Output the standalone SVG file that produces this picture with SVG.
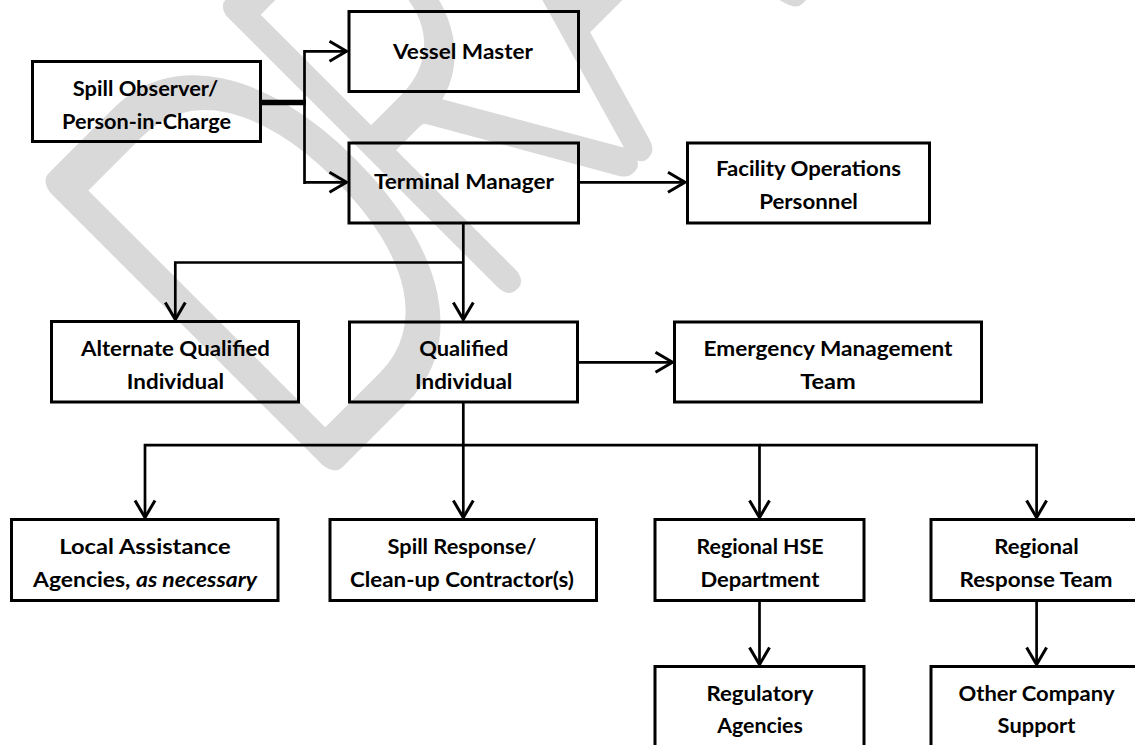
<svg xmlns="http://www.w3.org/2000/svg" width="1135" height="745" viewBox="0 0 1135 745">
<defs>
<style>
.box{fill:none;stroke:#000;stroke-width:3}
.t{font-family:Lato,"Liberation Sans",sans-serif;font-weight:700;font-size:20px;fill:#000;text-anchor:middle}
.c{fill:none;stroke:#000;stroke-width:2.7}
.wm{font-family:Lato,"Liberation Sans",sans-serif;font-weight:100;font-size:544px;fill:#d9d9d9;stroke:#d9d9d9;stroke-width:30;stroke-linejoin:round;stroke-linecap:round}
</style>
<marker id="ah" markerUnits="userSpaceOnUse" markerWidth="24" markerHeight="24" viewBox="-20 -12 24 24" refX="0" refY="0" orient="auto">
<path d="M-17,-10 L0,0 L-17,10" fill="none" stroke="#000" stroke-width="3"/>
</marker>
</defs>
<rect width="1135" height="745" fill="#fff"/>
<g id="watermark">
<text class="wm" vector-effect="non-scaling-stroke" transform="translate(299,486) rotate(-45) scale(0.69,1)">D<tspan dx="-54">RAFT</tspan></text>
</g>
<g id="connectors">
<path d="M262,102.5 H306" fill="none" stroke="#000" stroke-width="5.5"/>
<path d="M304.5,50 V184" class="c" stroke-width="3.2"/>
<path d="M304.5,51.3 H346.5" class="c" marker-end="url(#ah)"/>
<path d="M304.5,182.3 H346.5" class="c" stroke-width="4.3" marker-end="url(#ah)"/>
<path d="M580,182.3 H685" class="c" marker-end="url(#ah)"/>
<path d="M463.3,224 V319.5" class="c" marker-end="url(#ah)"/>
<path d="M463.3,262.5 H175.3 V319.5" class="c" marker-end="url(#ah)"/>
<path d="M579,362.3 H672.5" class="c" marker-end="url(#ah)"/>
<path d="M463.3,403 V517.5" class="c" marker-end="url(#ah)"/>
<path d="M463.3,445.2 H145 V517.5" class="c" marker-end="url(#ah)"/>
<path d="M463.3,445.2 H759.5 V517.5" class="c" marker-end="url(#ah)"/>
<path d="M759.5,445.2 H1036.6 V517.5" class="c" marker-end="url(#ah)"/>
<path d="M759.5,602 V664.5" class="c" marker-end="url(#ah)"/>
<path d="M1036.6,602 V664.5" class="c" marker-end="url(#ah)"/>
</g>
<g id="spill-observer">
<rect class="box" x="32.5" y="61.5" width="228" height="80"/>
<text class="t" x="145.5" y="95.5" textLength="145.6" lengthAdjust="spacingAndGlyphs">Spill Observer/</text>
<text class="t" x="146.5" y="128.5" textLength="169" lengthAdjust="spacingAndGlyphs">Person-in-Charge</text>
</g>
<g id="vessel-master">
<rect class="box" x="349" y="11.5" width="229.5" height="80"/>
<text class="t" x="463" y="58.5" textLength="140" lengthAdjust="spacingAndGlyphs">Vessel Master</text>
</g>
<g id="terminal-manager">
<rect class="box" x="349" y="143" width="229.5" height="80"/>
<text class="t" x="464" y="188.5" textLength="180" lengthAdjust="spacingAndGlyphs">Terminal Manager</text>
</g>
<g id="facility-operations">
<rect class="box" x="687.5" y="143" width="242" height="80"/>
<text class="t" x="808.5" y="175.5" textLength="185" lengthAdjust="spacingAndGlyphs">Facility Operations</text>
<text class="t" x="808.5" y="208.5" textLength="98.7" lengthAdjust="spacingAndGlyphs">Personnel</text>
</g>
<g id="alternate-qi">
<rect class="box" x="51.5" y="321.5" width="247" height="80.5"/>
<text class="t" x="175.5" y="355.5" textLength="189" lengthAdjust="spacingAndGlyphs">Alternate Qualified</text>
<text class="t" x="175.5" y="388.5" textLength="97.3" lengthAdjust="spacingAndGlyphs">Individual</text>
</g>
<g id="qualified-individual">
<rect class="box" x="349.5" y="322" width="228" height="80"/>
<text class="t" x="463.8" y="355.5" textLength="89" lengthAdjust="spacingAndGlyphs">Qualified</text>
<text class="t" x="463.7" y="388.5" textLength="97.3" lengthAdjust="spacingAndGlyphs">Individual</text>
</g>
<g id="emergency-management-team">
<rect class="box" x="674.5" y="322" width="307" height="80"/>
<text class="t" x="828" y="355.5" textLength="249" lengthAdjust="spacingAndGlyphs">Emergency Management</text>
<text class="t" x="828" y="388.5" textLength="55.6" lengthAdjust="spacingAndGlyphs">Team</text>
</g>
<g id="local-assistance">
<rect class="box" x="11.5" y="519.5" width="266.5" height="81"/>
<text class="t" x="145" y="553.5" textLength="171.4" lengthAdjust="spacingAndGlyphs">Local Assistance</text>
<text class="t" x="145" y="586.5" textLength="224" lengthAdjust="spacingAndGlyphs">Agencies, <tspan font-style="italic">as necessary</tspan></text>
</g>
<g id="spill-response">
<rect class="box" x="330" y="519.5" width="266.5" height="81"/>
<text class="t" x="462" y="553.5" textLength="149" lengthAdjust="spacingAndGlyphs">Spill Response/</text>
<text class="t" x="462" y="586.5" textLength="224" lengthAdjust="spacingAndGlyphs">Clean-up Contractor(s)</text>
</g>
<g id="regional-hse">
<rect class="box" x="655" y="519.5" width="209" height="81"/>
<text class="t" x="760" y="553.5" textLength="127" lengthAdjust="spacingAndGlyphs">Regional HSE</text>
<text class="t" x="760" y="586.5" textLength="119" lengthAdjust="spacingAndGlyphs">Department</text>
</g>
<g id="regional-response-team">
<rect class="box" x="931" y="519.5" width="209" height="81"/>
<text class="t" x="1036.5" y="553.5" textLength="84.4" lengthAdjust="spacingAndGlyphs">Regional</text>
<text class="t" x="1036" y="586.5" textLength="153" lengthAdjust="spacingAndGlyphs">Response Team</text>
</g>
<g id="regulatory-agencies">
<rect class="box" x="655" y="666.5" width="209" height="90"/>
<text class="t" x="760" y="700.5" textLength="107" lengthAdjust="spacingAndGlyphs">Regulatory</text>
<text class="t" x="760" y="732.5" textLength="85.7" lengthAdjust="spacingAndGlyphs">Agencies</text>
</g>
<g id="other-company-support">
<rect class="box" x="931" y="666.5" width="209" height="90"/>
<text class="t" x="1036.5" y="700.5" textLength="156" lengthAdjust="spacingAndGlyphs">Other Company</text>
<text class="t" x="1036.5" y="732.5" textLength="77.8" lengthAdjust="spacingAndGlyphs">Support</text>
</g>
</svg>
